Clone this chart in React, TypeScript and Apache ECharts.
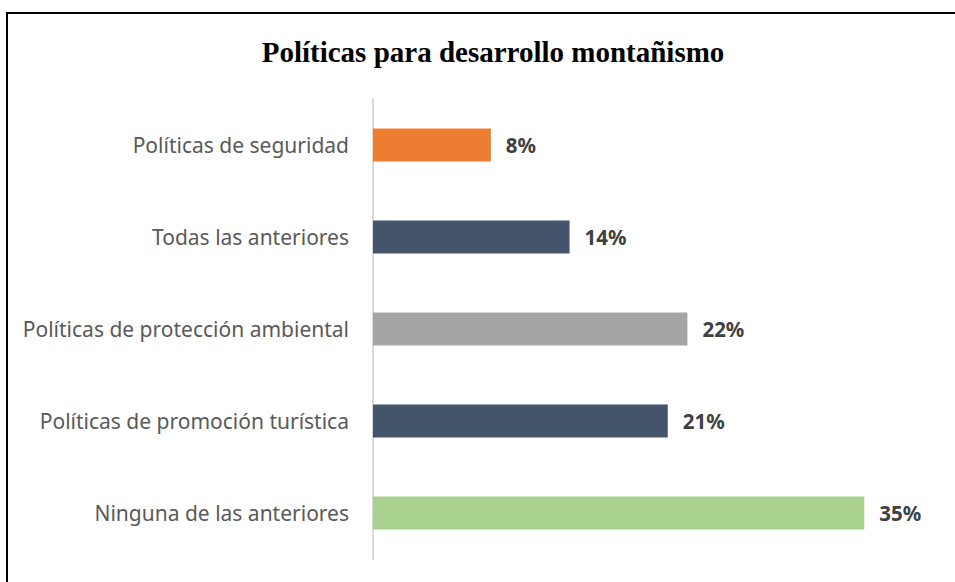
import React, { useEffect, useRef } from "react";
import * as echarts from "echarts";

const categories = [
  "Políticas de seguridad",
  "Todas las anteriores",
  "Políticas de protección ambiental",
  "Políticas de promoción turística",
  "Ninguna de las anteriores",
];
const values = [8.33, 13.89, 22.22, 20.83, 34.72];
const barColors = ["#ED7D31", "#44546A", "#A5A5A5", "#44546A", "#A9D18E"];
const titleText = "Políticas para desarrollo montañismo";

export default function App() {
  const ref = useRef<HTMLDivElement>(null);
  useEffect(() => {
    if (!ref.current) return;
    const chart = echarts.init(ref.current, null, { renderer: "svg" });
    chart.setOption({
      animation: false,
      backgroundColor: "#ffffff",
      title: {
        text: titleText,
        left: 488,
        top: 32,
        textAlign: "center",
        textStyle: {
          fontFamily: "Liberation Serif",
          fontWeight: "bold",
          fontSize: 29,
          color: "#000000",
        },
      },
      graphic: [
        {
          type: "polyline",
          shape: { points: [[7, 700], [7, 13], [1000, 13]] },
          style: { fill: "none", stroke: "#000000", lineWidth: 2 },
          silent: true,
        },
      ],
      grid: { left: 373, right: 16, top: 99, bottom: 23, containLabel: false },
      xAxis: {
        type: "value",
        min: 0,
        max: 40,
        show: false,
      },
      yAxis: {
        type: "category",
        inverse: true,
        data: categories,
        axisLine: { show: true, lineStyle: { color: "#D9D9D9", width: 2 } },
        axisTick: { show: false },
        axisLabel: {
          color: "#595959",
          fontSize: 21,
          fontFamily: "Noto Sans",
          margin: 24,
        },
      },
      series: [
        {
          type: "bar",
          barWidth: 33,
          data: values.map((v, i) => ({ value: v, itemStyle: { color: barColors[i] } })),
          label: {
            show: true,
            position: "right",
            distance: 15,
            formatter: (p: any) => Math.round(p.value) + "%",
            color: "#404040",
            fontWeight: "bold",
            fontSize: 20.5,
            fontFamily: "Noto Sans",
          },
        },
      ],
    });
    return () => chart.dispose();
  }, []);
  return (
    <div
      ref={ref}
      style={{ position: "absolute", left: 0, top: 0, width: 955, height: 582 }}
    />
  );
}
